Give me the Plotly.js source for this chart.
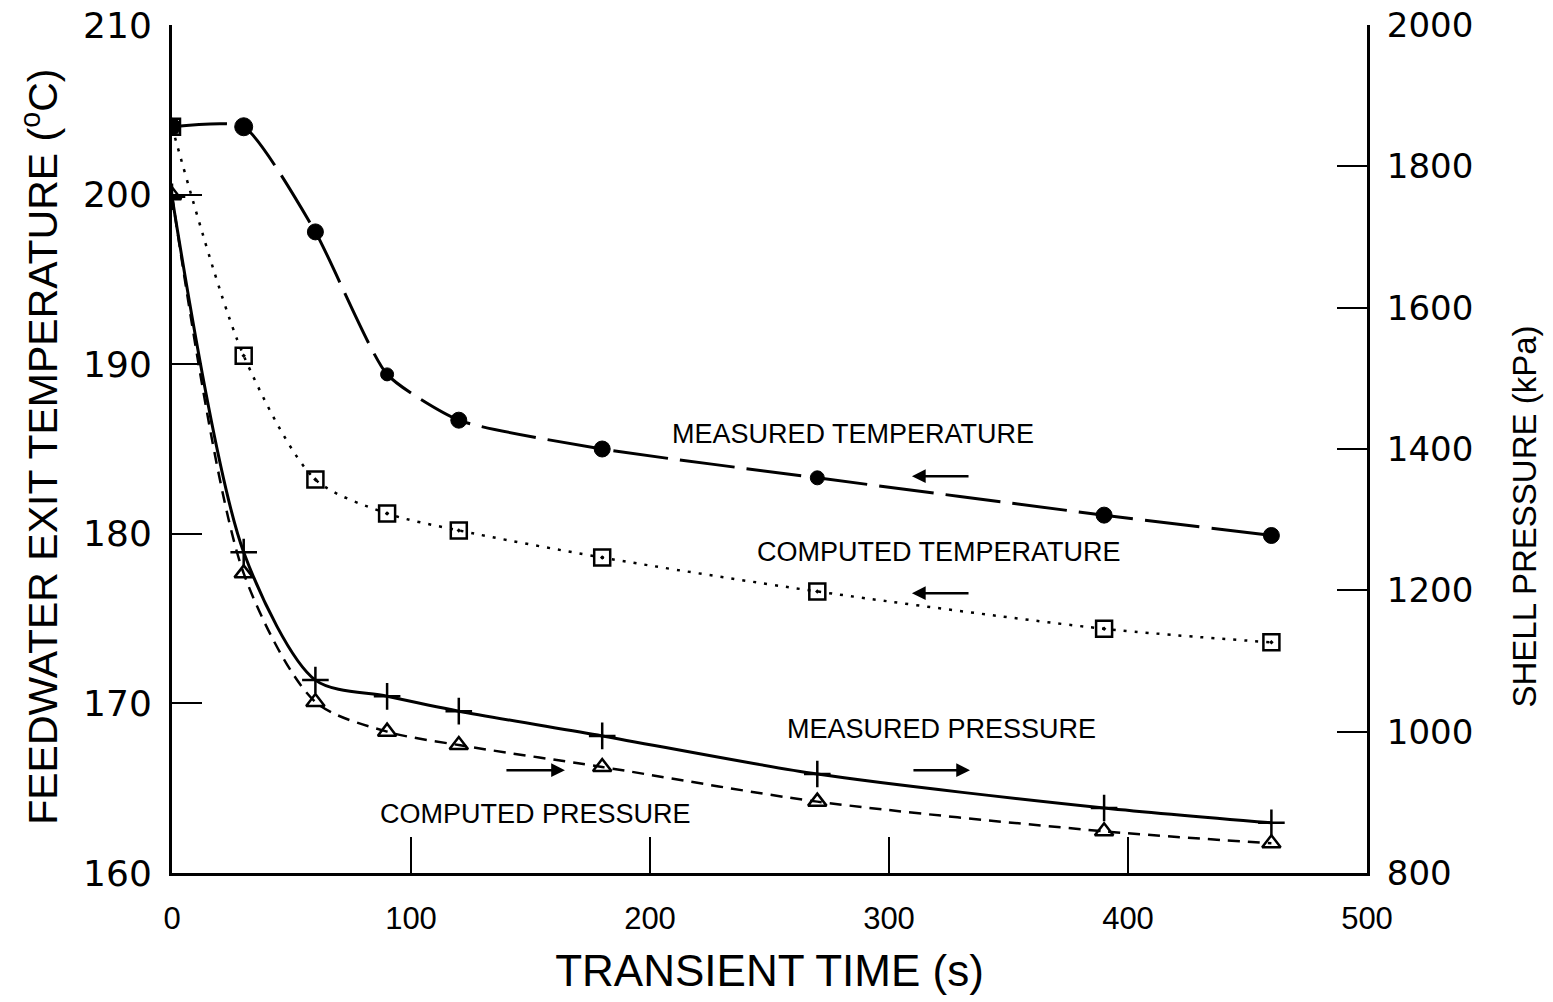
<!DOCTYPE html>
<html>
<head>
<meta charset="utf-8">
<script src="https://cdn.plot.ly/plotly-3.0.1.min.js"></script>
<style>html,body{margin:0;padding:0;background:#fff}#chart{width:1553px;height:1002px}</style>
</head>
<body>
<div id="chart"></div>
<script>
// Transient time (s)
const timeS = [0, 30, 60, 90, 120, 180, 270, 390, 460];
// Feedwater exit temperature (°C)
const measuredTemp = [204.0, 204.0, 197.8, 189.4, 186.7, 185.0, 183.3, 181.1, 179.9];
const computedTemp = [204.0, 190.5, 183.2, 181.2, 180.2, 178.6, 176.6, 174.4, 173.6];
// Shell pressure (kPa)
const measuredPres = [1757, 1254, 1073, 1050, 1029, 994, 940, 892, 871];
const computedPres = [1759, 1224, 1042, 1000, 981, 950, 901, 859, 842];

const xTicks = [0, 100, 200, 300, 400, 500];
const tTicks = [160, 170, 180, 190, 200, 210];
const pTicks = [800, 1000, 1200, 1400, 1600, 1800, 2000];

const labels = ["MEASURED TEMPERATURE", "COMPUTED TEMPERATURE", "MEASURED PRESSURE", "COMPUTED PRESSURE"];
const leftTitle = 'FEEDWATER EXIT TEMPERATURE (<sup>o</sup>C)';
const rightTitle = 'SHELL PRESSURE (kPa)';

const narrow = "Liberation Sans Narrow, Arial Narrow, Liberation Sans, sans-serif";
const wide = "DejaVu Sans, sans-serif";

const traces = [
  {x: timeS, y: measuredTemp, type: 'scatter', mode: 'lines+markers', yaxis: 'y',
   line: {color: '#000', width: 3, shape: 'spline', smoothing: 0.55, dash: '55px,12px'},
   marker: {symbol: 'circle', size: [17, 18, 16, 13, 16, 16, 14, 16, 16], color: '#000', opacity: 1,
            line: {color: '#000', width: 1}}},
  {x: timeS, y: computedTemp, type: 'scatter', mode: 'lines+markers', yaxis: 'y',
   line: {color: '#000', width: 2.5, shape: 'spline', smoothing: 0.8, dash: '3px,8px'},
   marker: {symbol: 'square-open-dot', size: 16, color: '#000', line: {width: 2.5, color: '#000'}}},
  {x: timeS, y: measuredPres, type: 'scatter', mode: 'lines+markers', yaxis: 'y2',
   line: {color: '#000', width: 3, shape: 'spline', smoothing: 0.8},
   marker: {symbol: 'cross-thin', size: 19, color: '#000', line: {width: 2.5, color: '#000'}}},
  {x: timeS, y: computedPres, type: 'scatter', mode: 'lines+markers', yaxis: 'y2',
   line: {color: '#000', width: 2.5, shape: 'spline', smoothing: 0.8, dash: '12px,8px'},
   marker: {symbol: 'triangle-up-open', size: 16, color: '#000', line: {width: 2.5, color: '#000'}}}
];

const arrowBase = {text: '', showarrow: true, arrowhead: 2, arrowsize: 1.1, arrowwidth: 2.5,
  arrowcolor: '#000', axref: 'x', ayref: 'y', xref: 'x', yref: 'y'};
const textFont = {family: narrow, size: 27, color: '#000'};

const annotations = [
  {x: 285, y: 185.9, xref: 'x', yref: 'y', text: labels[0], showarrow: false, font: textFont},
  {x: 321, y: 178.94, xref: 'x', yref: 'y', text: labels[1], showarrow: false, font: textFont},
  {x: 322, y: 168.47, xref: 'x', yref: 'y', text: labels[2], showarrow: false, font: textFont},
  {x: 152, y: 163.47, xref: 'x', yref: 'y', text: labels[3], showarrow: false, font: textFont},
  Object.assign({}, arrowBase, {x: 309.6, y: 183.4, ax: 333.9, ay: 183.4}),
  Object.assign({}, arrowBase, {x: 309.6, y: 176.5, ax: 333.9, ay: 176.5}),
  Object.assign({}, arrowBase, {x: 333.9, y: 166.06, ax: 309.6, ay: 166.06}),
  Object.assign({}, arrowBase, {x: 164.4, y: 166.06, ax: 139.3, ay: 166.06}),
  {x: -0.11, y: 0.502, xref: 'paper', yref: 'paper', text: leftTitle, textangle: -90, showarrow: false,
   xanchor: 'center', yanchor: 'middle', font: {family: narrow, size: 41, color: '#000'}},
  {x: 1.132, y: 0.42, xref: 'paper', yref: 'paper', text: rightTitle, textangle: -90, showarrow: false,
   xanchor: 'center', yanchor: 'middle', font: {family: narrow, size: 33, color: '#000'}}
];

const layout = {
  width: 1553, height: 1002,
  margin: {l: 172, r: 186, t: 25, b: 129},
  paper_bgcolor: '#fff', plot_bgcolor: '#fff',
  showlegend: false,
  xaxis: {range: [0, 500], tickvals: xTicks, ticktext: xTicks.map(String),
    showgrid: false, zeroline: false, showline: true, linewidth: 3, linecolor: '#000',
    ticks: 'inside', ticklen: 36, tickwidth: 2, tickcolor: '#000',
    tickfont: {family: narrow, size: 31, color: '#000'}, ticklabelstandoff: 16,
    title: {text: 'TRANSIENT TIME (s)', font: {family: narrow, size: 44, color: '#000'}, standoff: 20}},
  yaxis: {range: [160, 210], tickvals: tTicks, ticktext: tTicks.map(String),
    showgrid: false, zeroline: false, showline: true, linewidth: 3, linecolor: '#000',
    ticks: 'inside', ticklen: 30, tickwidth: 2, tickcolor: '#000',
    tickfont: {family: wide, size: 36, color: '#000'}, ticklabelstandoff: 10},
  yaxis2: {range: [800, 2000], tickvals: pTicks, ticktext: pTicks.map(String), overlaying: 'y', side: 'right',
    showgrid: false, zeroline: false, showline: true, linewidth: 3, linecolor: '#000',
    ticks: 'inside', ticklen: 30, tickwidth: 2, tickcolor: '#000',
    tickfont: {family: wide, size: 34, color: '#000'}, ticklabelstandoff: 10},
  annotations: annotations
};

Plotly.newPlot('chart', traces, layout, {displayModeBar: false, staticPlot: true});
</script>
</body>
</html>
